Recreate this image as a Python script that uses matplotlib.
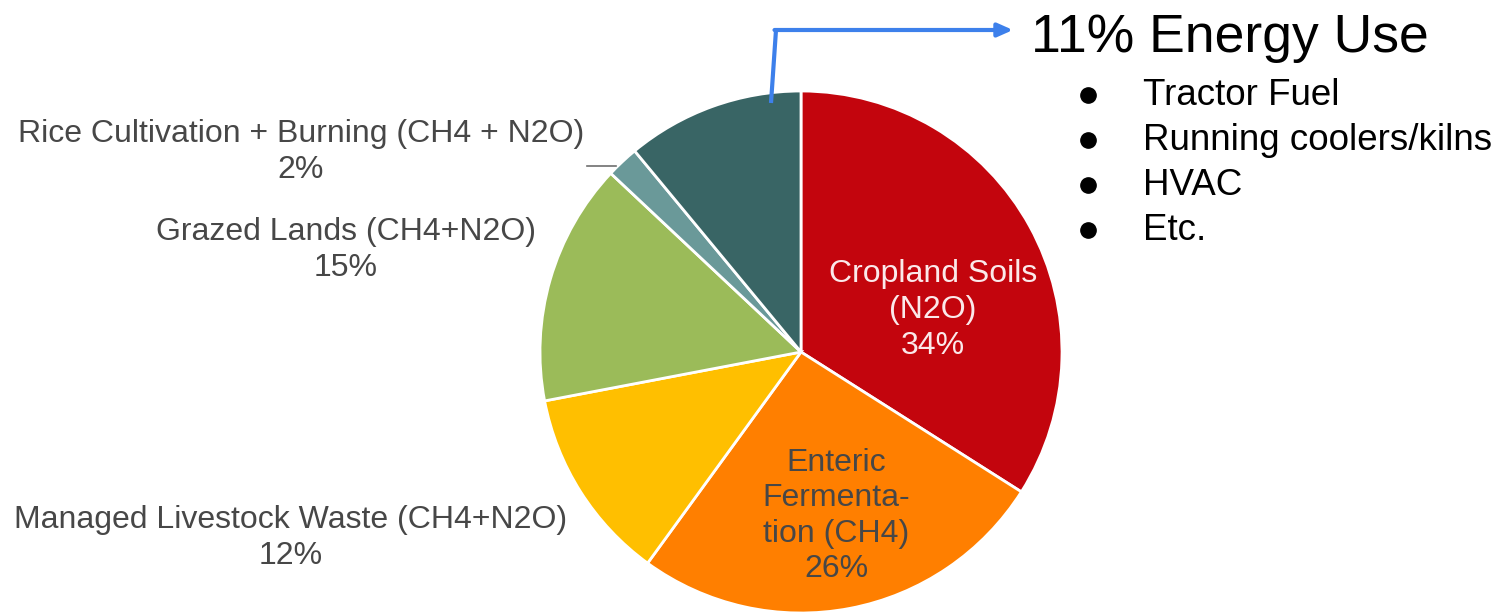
import matplotlib.pyplot as plt
import numpy as np

plt.rcParams['font.family'] = ['Liberation Sans', 'DejaVu Sans']

# data, clockwise from 12 o'clock
sources = ['Cropland Soils\n(N2O)', 'Enteric\nFermenta-\ntion (CH4)',
           'Managed Livestock Waste (CH4+N2O)', 'Grazed Lands (CH4+N2O)',
           'Rice Cultivation + Burning (CH4 + N2O)', 'Energy Use']
shares = [34, 26, 12, 15, 2, 11]
colors = ['#C3050D', '#FF7F00', '#FFBF00', '#9BBB59', '#6A9999', '#396565']
energy_items = ['Tractor Fuel', 'Running coolers/kilns', 'HVAC', 'Etc.']

W, H = 1503, 614
fig = plt.figure(figsize=(W / 100, H / 100), dpi=100)
ax = fig.add_axes([0, 0, 1, 1])

cx, cy, r = 801, H - 352, 261
wedges, _ = ax.pie(shares, colors=colors, startangle=90, counterclock=False,
                   center=(cx, cy), radius=r, frame=True,
                   wedgeprops=dict(edgecolor='white', linewidth=2))
ax.set_xlim(0, W)
ax.set_ylim(0, H)
ax.axis('off')

gray = '#474747'
lbl = 23
ls = 1.24
# labels inside the two big slices
ax.text(933, H - 310, f'{sources[0]}\n{shares[0]}%', color='#FBE9EA', fontsize=lbl,
        ha='center', va='center', linespacing=ls)
ax.text(836, H - 516, f'{sources[1]}\n{shares[1]}%', color=gray, fontsize=lbl,
        ha='center', va='center', linespacing=ls)
# outside labels
ax.text(291, H - 538, f'{sources[2]}\n{shares[2]}%', color=gray, fontsize=lbl,
        ha='center', va='center', linespacing=ls)
ax.text(346, H - 250, f'{sources[3]}\n{shares[3]}%', color=gray, fontsize=lbl,
        ha='center', va='center', linespacing=ls)
ax.text(301, H - 152, f'{sources[4]}\n{shares[4]}%', color=gray, fontsize=lbl,
        ha='center', va='center', linespacing=ls)

# leader line for the rice slice
w = wedges[4]
mid = np.deg2rad((w.theta1 + w.theta2) / 2)
ex = cx + r * np.cos(mid)
ax.plot([587, ex - 6], [H - 166, H - 166], color='#6E6E6E', linewidth=1.2)

# blue arrow from energy slice to side note
ax.plot([771, 776], [H - 103, H - 30], color='#3D80EB', linewidth=3,
        solid_capstyle='butt')
ax.annotate('', xy=(1013, H - 30), xytext=(774.5, H - 30),
            arrowprops=dict(arrowstyle='-|>,head_length=0.9,head_width=0.4',
                            color='#3D80EB', lw=3, shrinkA=0, shrinkB=0))

ax.text(1031, H - 52, f'{shares[5]}% Energy Use', fontsize=38.5, color='black',
        ha='left', va='baseline')
for i, item in enumerate(energy_items):
    y = H - 105 - i * 45
    ax.plot(1088, y + 10, 'o', ms=11, color='black')
    ax.text(1143, y, item, fontsize=26.5, ha='left', va='baseline', color='black')

fig.savefig('out.png', dpi=100)
